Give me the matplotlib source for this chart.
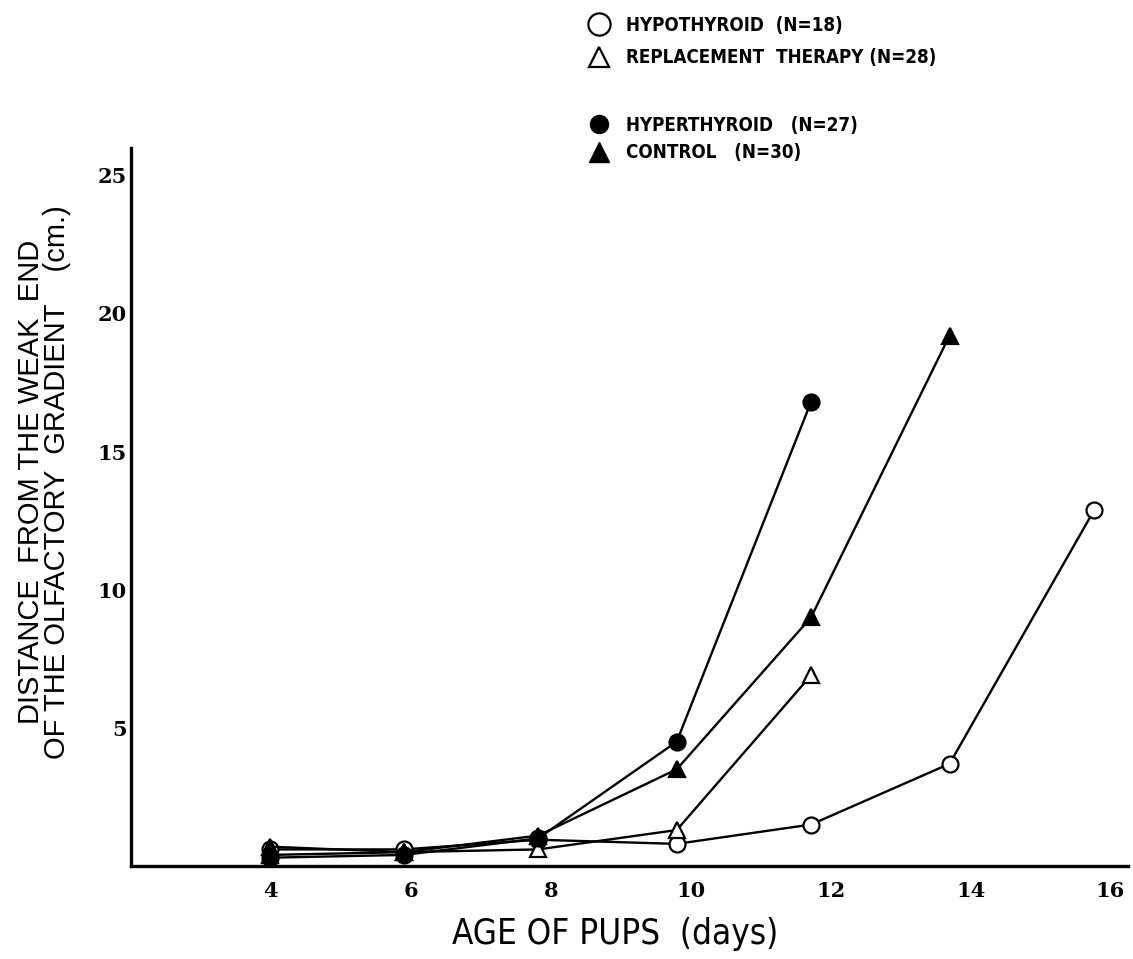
import matplotlib
matplotlib.use("Agg")
import matplotlib.pyplot as plt
from matplotlib.lines import Line2D

# ages as placed on the original drawing (points sit a little left of the day labels)
hypo_age = [3.98, 5.9, 7.82, 9.8, 11.72, 13.7, 15.77]
hypo_dist = [0.6, 0.6, 0.95, 0.8, 1.5, 3.7, 12.9]

repl_age = [3.98, 5.9, 7.82, 9.8, 11.72]
repl_dist = [0.4, 0.5, 0.6, 1.3, 6.9]

hyper_age = [3.98, 5.9, 7.82, 9.8, 11.72]
hyper_dist = [0.3, 0.4, 1.0, 4.5, 16.8]

control_age = [3.98, 5.9, 7.82, 9.8, 11.72, 13.7]
control_dist = [0.7, 0.5, 1.1, 3.5, 9.0, 19.2]

x_ticks = [4, 6, 8, 10, 12, 14, 16]
y_ticks = [5, 10, 15, 20, 25]

legend_top = ["HYPOTHYROID  (N=18)", "REPLACEMENT  THERAPY (N=28)"]
legend_bottom = ["HYPERTHYROID   (N=27)", "CONTROL   (N=30)"]

fig = plt.figure(figsize=(11.33, 9.59), dpi=100)
ax = fig.add_axes([0.1156, 0.097, 0.88, 0.749])

line_kw = dict(color="black", lw=1.7, mec="black", mew=1.6, ms=11.5, zorder=3)
ax.plot(hypo_age, hypo_dist, marker="o", mfc="white", **line_kw)
ax.plot(repl_age, repl_dist, marker="^", mfc="white", **line_kw)
ax.plot(hyper_age, hyper_dist, marker="o", mfc="black", **line_kw)
ax.plot(control_age, control_dist, marker="^", mfc="black", **line_kw)

ax.set_xlim(2.0, 16.25)
ax.set_ylim(0, 26)
ax.set_xticks(x_ticks)
ax.set_yticks(y_ticks)
for s in ["top", "right"]:
    ax.spines[s].set_visible(False)
for s in ["left", "bottom"]:
    ax.spines[s].set_linewidth(2.4)
ax.tick_params(axis="both", length=0)
ax.tick_params(axis="x", pad=11)
ax.tick_params(axis="y", pad=3)
for lab in ax.get_xticklabels() + ax.get_yticklabels():
    lab.set_fontfamily("DejaVu Serif")
    lab.set_fontweight("heavy")
    lab.set_fontsize(15)

fig.text(0.543, 1 - 934 / 959, "AGE OF PUPS  (days)", ha="center", va="center",
         fontsize=25, family="DejaVu Sans", stretch="condensed")
fig.text(0.039, 1 - 482 / 959,
         "DISTANCE  FROM THE WEAK  END\nOF THE OLFACTORY  GRADIENT    (cm.)",
         rotation=90, ha="center", va="center", multialignment="center",
         fontsize=21, family=["Liberation Sans", "DejaVu Sans"], linespacing=0.9)

prop = dict(family="DejaVu Sans", weight="bold", size=13.5, stretch="condensed")
h_top = [Line2D([], [], ls="none", marker="o", mfc="white", mec="black", mew=1.6, ms=16),
         Line2D([], [], ls="none", marker="^", mfc="white", mec="black", mew=1.6, ms=15)]
h_bot = [Line2D([], [], ls="none", marker="o", mfc="black", mec="black", ms=13),
         Line2D([], [], ls="none", marker="^", mfc="black", mec="black", ms=15)]
fig.legend(h_top, legend_top, loc="upper left", bbox_to_anchor=(590 / 1133, 1 - 16 / 959),
           frameon=False, prop=prop, handlelength=1.0, handletextpad=0.9,
           labelspacing=0.7, borderpad=0, borderaxespad=0)
fig.legend(h_bot, legend_bottom, loc="upper left", bbox_to_anchor=(590 / 1133, 1 - 116 / 959),
           frameon=False, prop=prop, handlelength=1.0, handletextpad=0.9,
           labelspacing=0.45, borderpad=0, borderaxespad=0)

fig.savefig("out.png", dpi=100)
